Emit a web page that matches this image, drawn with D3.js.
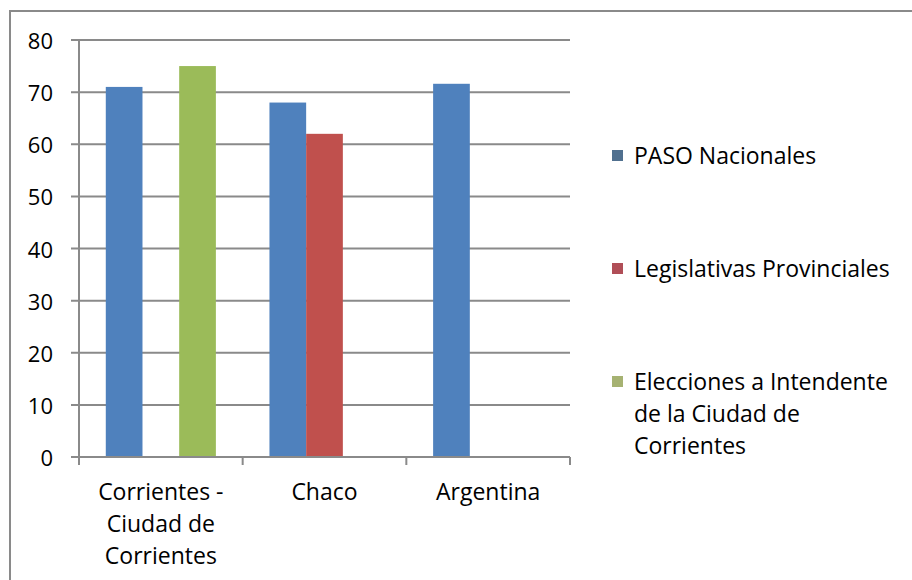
<!DOCTYPE html>
<html>
<head>
<meta charset="utf-8">
<script src="https://cdn.jsdelivr.net/npm/d3@7/dist/d3.min.js"></script>
<style>
  html, body { margin: 0; padding: 0; background: #fff; }
  svg { display: block; font-family: "Open Sans", Lato, sans-serif; }
</style>
</head>
<body>
<svg id="chart" width="912" height="580"></svg>
<script>
// Categories (each label may wrap onto several lines)
const categories = ["Corrientes - Ciudad de Corrientes", "Chaco", "Argentina"];
const categoryLines = [["Corrientes -", "Ciudad de", "Corrientes"], ["Chaco"], ["Argentina"]];

// Series
const seriesNames = ["PASO Nacionales", "Legislativas Provinciales", "Elecciones a Intendente de la Ciudad de Corrientes"];
const legendLines = [["PASO Nacionales"], ["Legislativas Provinciales"], ["Elecciones a Intendente", "de la Ciudad de", "Corrientes"]];
const pasoNacionales = [71, 68, 71.6];
const legislativasProvinciales = [null, 62, null];
const eleccionesIntendente = [75, null, null];
const seriesValues = [pasoNacionales, legislativasProvinciales, eleccionesIntendente];

// Axis
const yTicks = [0, 10, 20, 30, 40, 50, 60, 70, 80];

const barColors = ["#4F81BD", "#C0504D", "#9BBB59"];
const legendColors = ["#50708F", "#B04E57", "#A6B272"];

const svg = d3.select("#chart");

// Outer frame
svg.append("path")
  .attr("d", "M10,580 V11 H912")
  .attr("fill", "none")
  .attr("stroke", "#8a8a8a")
  .attr("stroke-width", 2);

const plot = { left: 79, right: 570, top: 40, bottom: 457 };

const x = d3.scaleBand().domain(categories).range([plot.left, plot.right]).paddingInner(0).paddingOuter(0);
const xs = d3.scaleBand().domain(d3.range(seriesNames.length)).range([0, x.bandwidth()]).paddingOuter(0.73).paddingInner(0);
const y = d3.scaleLinear().domain([0, 80]).range([plot.bottom, plot.top]);

// Gridlines
svg.append("g")
  .selectAll("line")
  .data(yTicks)
  .join("line")
  .attr("x1", plot.left - 8)
  .attr("x2", plot.right)
  .attr("y1", d => y(d))
  .attr("y2", d => y(d))
  .attr("stroke", "#8a8a8a")
  .attr("stroke-width", 2);

// Y axis line
svg.append("line")
  .attr("x1", plot.left).attr("x2", plot.left)
  .attr("y1", plot.top).attr("y2", plot.bottom + 8)
  .attr("stroke", "#8a8a8a").attr("stroke-width", 2);

// Y tick labels
svg.append("g")
  .selectAll("text")
  .data(yTicks)
  .join("text")
  .attr("x", 53)
  .attr("y", d => y(d))
  .attr("text-anchor", "end")
  .attr("dominant-baseline", "central")
  .attr("font-size", 22)
  .attr("fill", "#000")
  .text(d => d);

// Bars
const groups = svg.append("g")
  .selectAll("g")
  .data(categories)
  .join("g")
  .attr("transform", d => `translate(${x(d)},0)`);

groups.selectAll("rect")
  .data((d, i) => seriesValues.map((vals, s) => ({ s, v: vals[i] })).filter(e => e.v != null))
  .join("rect")
  .attr("x", e => xs(e.s))
  .attr("width", xs.bandwidth())
  .attr("y", e => y(e.v))
  .attr("height", e => y(0) - y(e.v))
  .attr("fill", e => barColors[e.s]);

// X axis line and category ticks
svg.append("line")
  .attr("x1", plot.left).attr("x2", plot.right)
  .attr("y1", plot.bottom).attr("y2", plot.bottom)
  .attr("stroke", "#8a8a8a").attr("stroke-width", 2);

const tickXs = categories.map(c => x(c)).concat([plot.right]);
svg.append("g")
  .selectAll("line")
  .data(tickXs)
  .join("line")
  .attr("x1", d => d).attr("x2", d => d)
  .attr("y1", plot.bottom).attr("y2", plot.bottom + 8)
  .attr("stroke", "#8a8a8a").attr("stroke-width", 2);

// Category labels
svg.append("g")
  .selectAll("text")
  .data(categories)
  .join("text")
  .attr("text-anchor", "middle")
  .attr("font-size", 23)
  .attr("fill", "#000")
  .each(function (d, i) {
    const t = d3.select(this);
    categoryLines[i].forEach((line, k) => {
      t.append("tspan")
        .attr("x", x(d) + x.bandwidth() / 2)
        .attr("y", 491 + k * 32)
        .attr("dominant-baseline", "central")
        .text(line);
    });
  });

// Legend
const legendY = [155, 268, 381];
const legend = svg.append("g")
  .selectAll("g")
  .data(seriesNames)
  .join("g");

legend.append("rect")
  .attr("x", 612)
  .attr("y", (d, i) => legendY[i] - 5)
  .attr("width", 11)
  .attr("height", 11)
  .attr("fill", (d, i) => legendColors[i]);

legend.append("text")
  .attr("font-size", 23)
  .attr("fill", "#000")
  .each(function (d, i) {
    const t = d3.select(this);
    legendLines[i].forEach((line, k) => {
      t.append("tspan")
        .attr("x", 634)
        .attr("y", legendY[i] + k * 32)
        .attr("dominant-baseline", "central")
        .text(line);
    });
  });
</script>
</body>
</html>
